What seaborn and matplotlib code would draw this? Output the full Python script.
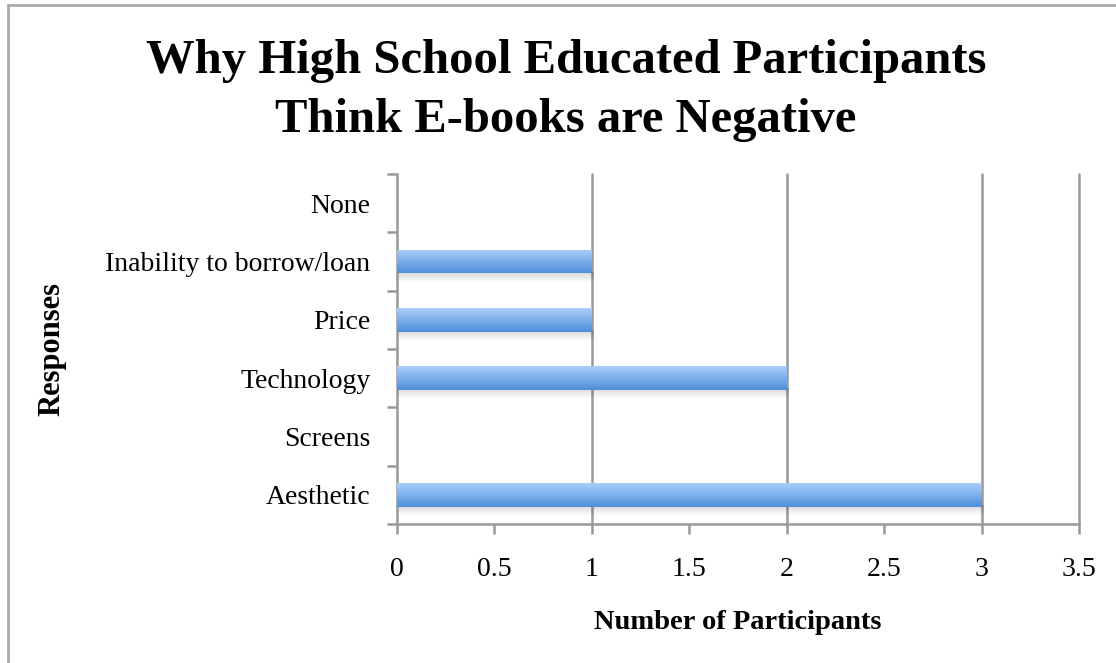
import numpy as np
import pandas as pd
import matplotlib
matplotlib.use("Agg")
import matplotlib.pyplot as plt
import seaborn as sns
from matplotlib.lines import Line2D

RESPONSES = ['None', 'Inability to borrow/loan', 'Price', 'Technology', 'Screens', 'Aesthetic']
COUNTS = [0, 1, 1, 2, 0, 3]
X_TICKS = [0, 0.5, 1, 1.5, 2, 2.5, 3, 3.5]
GRID_AT = [1, 2, 3, 3.5]
TITLE_LINES = ["Why High School Educated Participants", "Think E-books are Negative"]

sns.set_style("white")
plt.rcParams['font.family'] = ['Liberation Serif', 'DejaVu Serif']
plt.rcParams['text.color'] = 'black'
plt.rcParams['axes.labelcolor'] = 'black'

df = pd.DataFrame({"response": RESPONSES, "count": COUNTS})

fig = plt.figure(figsize=(11.16, 6.63), dpi=100)
ax = fig.add_axes([397 / 1116, 1 - 524 / 663, (1079 - 397) / 1116, (524 - 174) / 663])

ax = sns.barplot(data=df, x="count", y="response", order=RESPONSES,
                 color="#7fb1ee", width=0.41, linewidth=0, ax=ax, zorder=3)

# vertical gradient on each bar, light on top, darker at the bottom
grad = np.linspace(0, 1, 64).reshape(-1, 1)
cmap = matplotlib.colors.LinearSegmentedColormap.from_list("bar", ["#aacefb", "#4f8fdb"])
# soft shadow: black fading out downwards
shade = np.zeros((32, 1, 4))
shade[:, 0, 3] = np.linspace(0.16, 0.0, 32)
for p in list(ax.patches):
    x0, y0 = p.get_x(), p.get_y()
    w, h = p.get_width(), p.get_height()
    if w <= 0:
        p.set_visible(False)
        continue
    ax.imshow(shade, extent=(x0, x0 + w + 0.01, y0 + h + 0.16, y0 + h - 0.02),
              aspect="auto", zorder=2, interpolation="bilinear")
    im = ax.imshow(grad, extent=(x0, x0 + w, y0 + h, y0), aspect="auto",
                   cmap=cmap, zorder=4)
    im.set_clip_path(p)

ax.set_xlim(0, 3.5)
ax.set_ylim(5.5, -0.5)
ax.set_xticks(X_TICKS)
ax.set_xticklabels([f"{t:g}" for t in X_TICKS])
for g in GRID_AT:
    ax.axvline(g, color="#999999", lw=1.8, zorder=1, clip_on=False)

ax.set_yticks(np.arange(-0.5, 6, 1), minor=False)
ax.set_yticklabels([])
ax.set_yticks(np.arange(len(RESPONSES)), minor=True)
ax.set_yticklabels(RESPONSES, minor=True)
ax.tick_params(axis="y", which="major", length=7, width=1.8, color="#999999", direction="out", left=True)
ax.tick_params(axis="y", which="minor", length=0, pad=19, labelsize=20, labelcolor="black")
ax.tick_params(axis="x", which="major", length=7, width=1.8, color="#999999", direction="out",
               labelsize=20, pad=17, labelcolor="black", bottom=True)

for side in ["top", "right"]:
    ax.spines[side].set_visible(False)
for side in ["left", "bottom"]:
    ax.spines[side].set_color("#999999")
    ax.spines[side].set_linewidth(1.8)

ax.set_xlabel("Number of Participants", fontsize=20.5, fontweight="bold", labelpad=20)
ax.set_ylabel("Responses", fontsize=22, fontweight="bold")
ax.yaxis.set_label_coords(-0.484, 0.5)

fig.text(0.507, 1 - 73 / 663, TITLE_LINES[0], ha="center", va="baseline",
         fontsize=35, fontweight="bold")
fig.text(0.507, 1 - 132 / 663, TITLE_LINES[1], ha="center", va="baseline",
         fontsize=35, fontweight="bold")

# outer chart border (left and top edges visible)
fig.add_artist(Line2D([7.5 / 1116, 7.5 / 1116], [0, 1 - 5 / 663], color="#aaaaaa", lw=2))
fig.add_artist(Line2D([7.5 / 1116, 1], [1 - 5 / 663, 1 - 5 / 663], color="#aaaaaa", lw=2))

fig.savefig("out.png", dpi=100)
